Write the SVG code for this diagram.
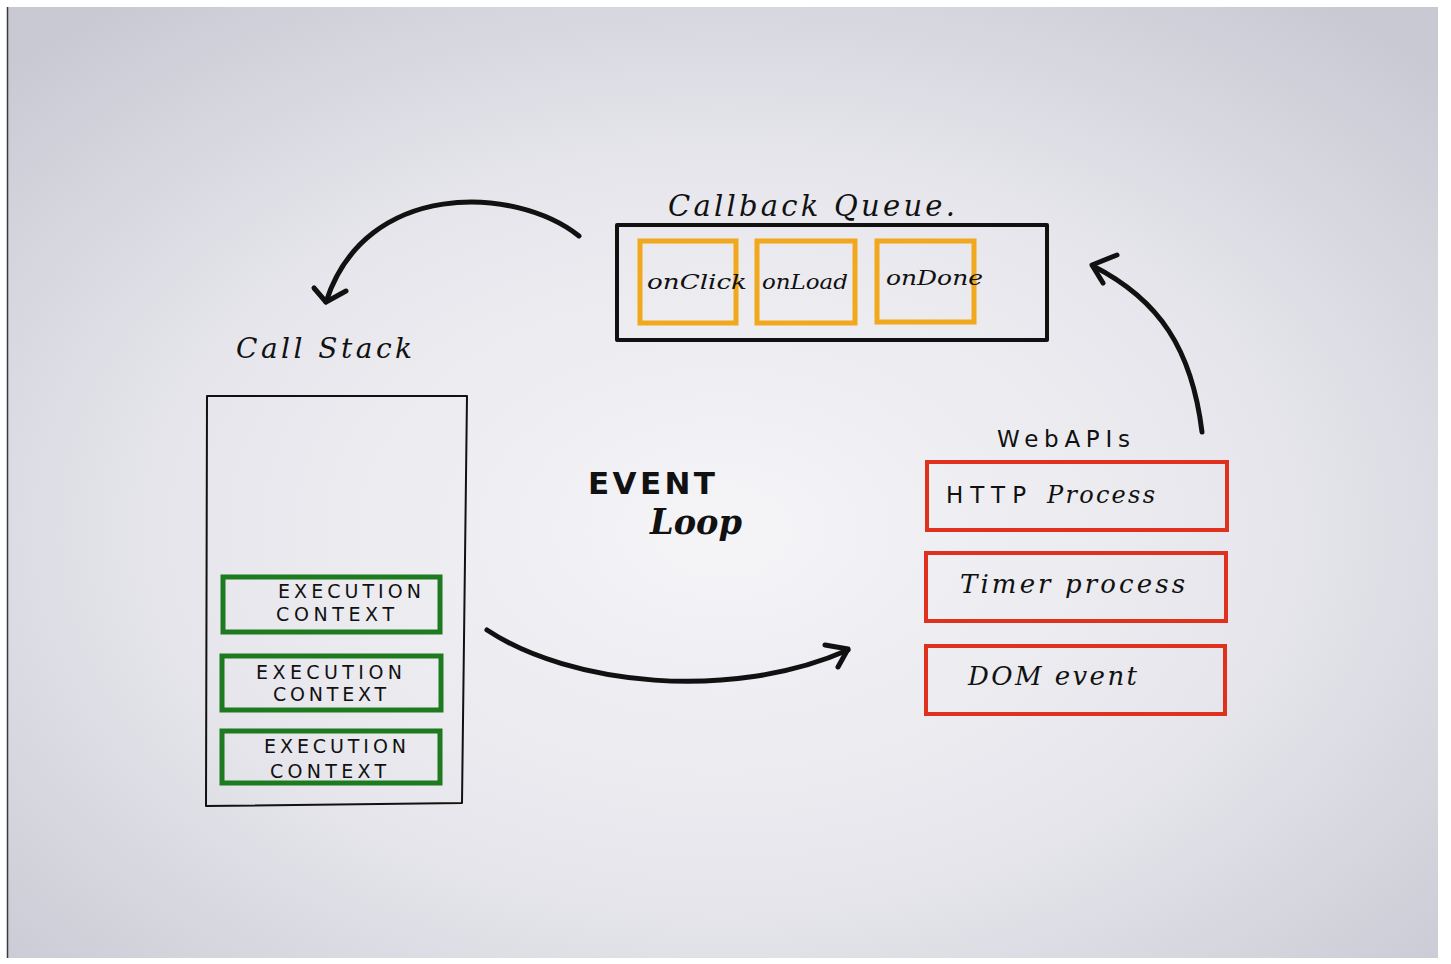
<svg xmlns="http://www.w3.org/2000/svg" width="1451" height="964" viewBox="0 0 1451 964">
  <defs>
    <radialGradient id="paper" cx="0.5" cy="0.55" r="0.7">
      <stop offset="0" stop-color="#f5f5f8"/>
      <stop offset="0.55" stop-color="#e6e6ec"/>
      <stop offset="1" stop-color="#c9c9d4"/>
    </radialGradient>
    <style>
      .ink { fill: none; stroke: #111; stroke-linecap: round; stroke-linejoin: round; }
      .queue { fill: none; stroke: #f2a81d; stroke-width: 5; }
      .ctx { fill: none; stroke: #1d7a1f; stroke-width: 5; }
      .api { fill: none; stroke: #e0301e; stroke-width: 4; }
      .script { font-family: "DejaVu Serif", "Liberation Serif", serif; font-style: italic; fill: #111; }
      .caps { font-family: "DejaVu Sans", "Liberation Sans", sans-serif; fill: #111; }
    </style>
  </defs>

  <!-- sheet of paper on a white ground -->
  <rect x="0" y="0" width="1451" height="964" fill="#ffffff"/>
  <rect x="7" y="7" width="1431" height="951" fill="url(#paper)"/>
  <line x1="7.5" y1="7" x2="7.5" y2="958" stroke="#3a3a44" stroke-width="1.5"/>

  <!-- Callback queue -->
  <g id="callback-queue">
    <text class="script" x="668" y="216" font-size="29" textLength="287" lengthAdjust="spacing">Callback Queue.</text>
    <rect x="617" y="225" width="430" height="115" class="ink" stroke-width="4"/>
    <g id="cb-onclick">
      <rect x="640" y="241" width="96" height="82" class="queue"/>
      <text class="script" x="647" y="289" font-size="21" textLength="100" lengthAdjust="spacingAndGlyphs">onClick</text>
    </g>
    <g id="cb-onload">
      <rect x="757" y="241" width="98" height="82" class="queue"/>
      <text class="script" x="762" y="289" font-size="21" textLength="86" lengthAdjust="spacingAndGlyphs">onLoad</text>
    </g>
    <g id="cb-ondone">
      <rect x="877" y="241" width="97" height="81" class="queue"/>
      <text class="script" x="886" y="285" font-size="21" textLength="97" lengthAdjust="spacingAndGlyphs">onDone</text>
    </g>
  </g>

  <!-- Call stack -->
  <g id="call-stack">
    <text class="script" x="236" y="358" font-size="28" textLength="176" lengthAdjust="spacing">Call Stack</text>
    <polygon points="207,396 467,396 462,803 206,806" class="ink" stroke-width="2"/>
    <g id="ctx-1">
      <rect x="223" y="577" width="217" height="55" class="ctx"/>
      <text class="caps" x="278" y="598" font-size="19" textLength="143" lengthAdjust="spacing">EXECUTION</text>
      <text class="caps" x="276" y="621" font-size="19" textLength="118" lengthAdjust="spacing">CONTEXT</text>
    </g>
    <g id="ctx-2">
      <rect x="222" y="656" width="219" height="54" class="ctx"/>
      <text class="caps" x="256" y="679" font-size="19" textLength="146" lengthAdjust="spacing">EXECUTION</text>
      <text class="caps" x="273" y="701" font-size="19" textLength="113" lengthAdjust="spacing">CONTEXT</text>
    </g>
    <g id="ctx-3">
      <rect x="222" y="731" width="218" height="52" class="ctx"/>
      <text class="caps" x="264" y="753" font-size="19" textLength="142" lengthAdjust="spacing">EXECUTION</text>
      <text class="caps" x="270" y="778" font-size="19" textLength="116" lengthAdjust="spacing">CONTEXT</text>
    </g>
  </g>

  <!-- Title -->
  <g id="event-loop">
    <text class="caps" x="588" y="494" font-size="31" font-weight="bold" textLength="127" lengthAdjust="spacing">EVENT</text>
    <text class="script" x="650" y="534" font-size="36" font-weight="bold" textLength="92" lengthAdjust="spacingAndGlyphs">Loop</text>
  </g>

  <!-- Web APIs -->
  <g id="web-apis">
    <text class="caps" x="997" y="447" font-size="23" textLength="133" lengthAdjust="spacing">WebAPIs</text>
    <g id="api-http">
      <rect x="927" y="462" width="300" height="68" class="api"/>
      <text class="caps" x="946" y="503" font-size="23" textLength="80" lengthAdjust="spacing">HTTP</text>
      <text class="script" x="1047" y="503" font-size="24" textLength="108" lengthAdjust="spacing">Process</text>
    </g>
    <g id="api-timer">
      <rect x="926" y="553" width="300" height="68" class="api"/>
      <text class="script" x="960" y="593" font-size="26" textLength="225" lengthAdjust="spacing">Timer process</text>
    </g>
    <g id="api-dom">
      <rect x="926" y="646" width="299" height="68" class="api"/>
      <text class="script" x="968" y="685" font-size="26" textLength="169" lengthAdjust="spacing">DOM event</text>
    </g>
  </g>

  <!-- Connectors -->
  <g id="connectors" class="ink" stroke-width="5">
    <path d="M579,236 C515,185 365,180 326,302"/>
    <path d="M314,288 L326,302 L346,291"/>
    <path d="M487,630 C570,685 730,702 848,650"/>
    <path d="M825,645 L848,649 L838,667"/>
    <path d="M1202,432 C1192,350 1160,300 1093,266"/>
    <path d="M1117,255 L1092,265 L1103,283"/>
  </g>
</svg>
